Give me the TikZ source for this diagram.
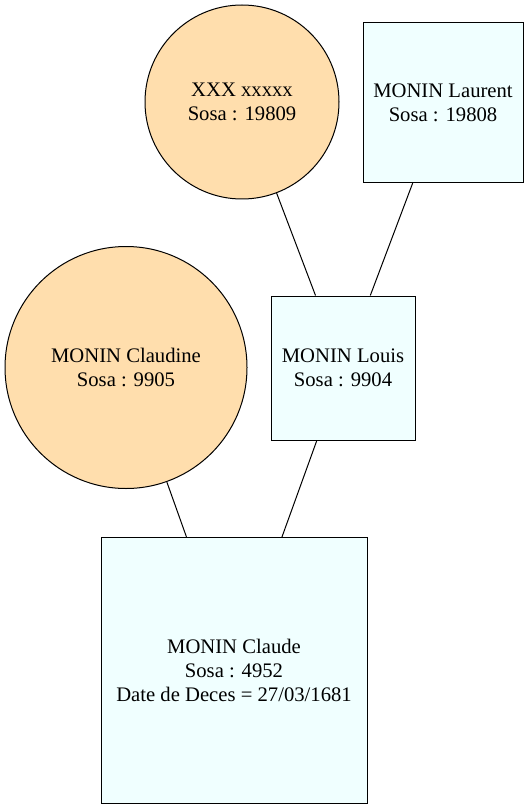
\documentclass[tikz,border=0pt]{standalone}
\usepackage{fontspec}
\setmainfont{Liberation Serif}
\usepackage{tikz}
\usepackage{xcolor}
\usetikzlibrary{positioning}
\definecolor{navajo}{HTML}{FFDEAD}
\definecolor{azur}{HTML}{F0FFFF}

\begin{document}
\begin{tikzpicture}[x=0.75pt, y=-0.75pt, line width=0.75pt,
        every node/.style={align=center, inner sep=0pt, font=\fontsize{15.5pt}{18pt}\selectfont},
        femme/.style={circle, draw=black, fill=navajo},
        homme/.style={rectangle, draw=black, fill=azur}]
                        \useasboundingbox[fill=white] (0, 0) rectangle (529, 809);

                        \node[femme, minimum size=145.5pt] (xxx) at (242, 102) {XXX xxxxx\\Sosa : 19809};
                        \node[homme, minimum size=120pt] (laurent) at (443, 102.5) {MONIN Laurent\\Sosa : 19808};
                        \node[femme, minimum size=181.5pt] (claudine) at (126, 367.5) {MONIN Claudine\\Sosa : 9905};
                        \node[homme, minimum size=108pt] (louis) at (343, 368) {MONIN Louis\\Sosa : 9904};
                        \node[homme, minimum size=199.5pt] (claude) at (234, 670.5) {MONIN Claude\\Sosa : 4952\\Date de Deces = 27/03/1681};

                        \draw (xxx) -- (louis);
                        \draw (laurent) -- (louis);
                        \draw (claudine) -- (claude);
                        \draw (louis) -- (claude);
                    \end{tikzpicture}
\end{document}
